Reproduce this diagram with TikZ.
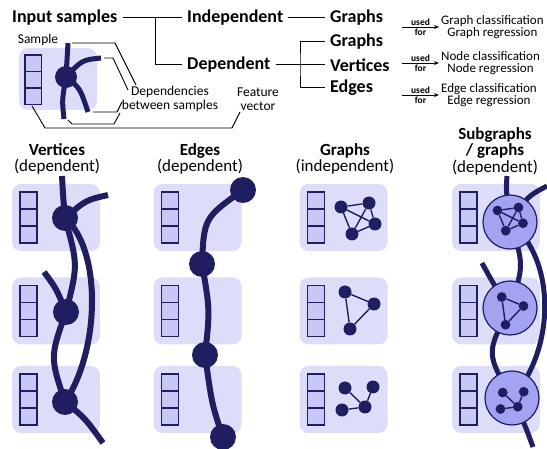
\documentclass[tikz,border=0pt]{standalone}
\usepackage{fontspec}
\setmainfont{Carlito}
\usetikzlibrary{calc,arrows.meta,positioning}

\definecolor{navy}{RGB}{31,30,96}
\definecolor{boxbg}{RGB}{221,221,250}
\definecolor{cellbg}{RGB}{200,200,246}
\definecolor{subbg}{RGB}{163,163,242}

% three stacked cells, top left corner at (#1,#2), cell size #3
\newcommand{\featvec}[3]{%
  \foreach \k in {0,1,2}
    \draw[cell] (#1,{#2+#3*\k}) rectangle ++(#3,#3);
}

\tikzset{
  kfour/.pic={
    \node[gv] (-a) at (-18,-10) {};
    \node[gv] (-b) at (10,-14) {};
    \node[gv] (-c) at (16,7) {};
    \node[gv] (-d) at (-7,17) {};
    \draw[gedge] (-a) -- (-b) (-a) -- (-c) (-a) -- (-d)
                 (-b) -- (-c) (-b) -- (-d) (-c) -- (-d);
  },
  tri/.pic={
    \node[gv] (-a) at (-11,-16) {};
    \node[gv] (-b) at (18,-4) {};
    \node[gv] (-c) at (-6,21) {};
    \draw[gedge] (-a) -- (-b) -- (-c) -- (-a);
  },
  fork/.pic={
    \node[gv] (-a) at (-11,-10) {};
    \node[gv] (-b) at (17,-11) {};
    \node[gv] (-c) at (9,9) {};
    \node[gv] (-d) at (-14,12) {};
    \draw[gedge] (-a) -- (-c) (-b) -- (-c) (-d) -- (-c);
  }
}

\begin{document}
\begin{tikzpicture}[x=1pt,y=-1pt,
  hd/.style={font=\fontsize{18}{18}\selectfont\bfseries, inner xsep=5pt, inner ysep=1pt},
  lbl/.style={font=\fontsize{13.5}{13.5}\selectfont, align=center, inner sep=0pt},
  use/.style={font=\fontsize{13}{12.5}\selectfont, align=center, inner sep=2pt},
  small/.style={font=\fontsize{9.5}{9.5}\selectfont\bfseries, inner sep=1pt},
  ttl/.style={font=\fontsize{17}{16.5}\selectfont, align=center, inner sep=0pt},
  sbox/.style={fill=boxbg, rounded corners=9pt, minimum width=88, minimum height=67, inner sep=0pt},
  cell/.style={draw=navy, fill=cellbg, line width=1.1pt},
  vtx/.style={circle, fill=navy, minimum size=26, inner sep=0pt},
  gv/.style={circle, fill=navy, minimum size=13, inner sep=0pt},
  gedge/.style={navy, line width=1.4pt},
  sub/.style={circle, draw=navy, line width=1.2pt, fill=subbg, minimum size=54, inner sep=0pt},
  strand/.style={navy, line width=6pt},
  call/.style={black, line width=0.9pt},
  tree/.style={black, line width=1pt}
]
\useasboundingbox (0,0) rectangle (547,449);

% --- top: what the samples are
\node[hd, anchor=west] (inp) at (7,18) {Input samples};
\node[hd, anchor=west] (ind) at (182,18) {Independent};
\node[hd, anchor=west] (dep) at (182,65) {Dependent};
\node[hd, anchor=west] (gr1) at (325,18) {Graphs};
\node[hd, anchor=west] (gr2) at (325,42) {Graphs};
\node[hd, anchor=west] (vts) at (325,65) {Vertices};
\node[hd, anchor=west] (eds) at (325,88) {Edges};
\coordinate (fk1) at (155,18);
\coordinate (fk2) at (300,65);
\draw[tree] (inp) -- (ind);
\draw[tree] (fk1) |- (dep);
\draw[tree] (ind) -- (gr1);
\draw[tree] (dep) -- (vts);
\draw[tree] (gr2) -| (fk2) |- (eds);

% --- used for
\node[use, anchor=west] (lgc) at (439,27) {Graph classification\\Graph regression};
\node[use, anchor=west] (lnc) at (439,63) {Node classification\\Node regression};
\node[use, anchor=west] (lec) at (439,95) {Edge classification\\Edge regression};
\coordinate (ua) at (402,27);
\coordinate (ub) at (402,63);
\coordinate (uc) at (402,95);
\foreach \s/\t in {ua/lgc, ub/lnc, uc/lec}
  \draw[-{Stealth[length=5pt,width=4pt]}, line width=0.9pt] (\s) -- (\t.west)
    node[small, midway, above] {used} node[small, midway, below] {for};

% --- one sample
\node[sbox, minimum width=78, minimum height=62] (smp) at (58,79) {};
\node[lbl] (smpl) at (38,40) {Sample};
\featvec{25}{55}{16.5}
\node[vtx, minimum size=22] (s0) at (66,77) {};
\coordinate (s1) at (68,43);
\coordinate (s2) at (101,58);
\coordinate (s3) at (88,112);
\coordinate (s4) at (64,119);
\draw[strand, line width=5pt] (s0.center) .. controls (67,60) .. (s1);
\draw[strand, line width=5pt] (s0.center) .. controls (82,60) .. (s2);
\draw[strand, line width=5pt] (s0.center) .. controls (80,88) .. (s3);
\draw[strand, line width=5pt] (s0.center) .. controls (62,100) .. (s4);

\node[lbl] (dps) at (170,99) {Dependencies\\between samples};
\node[lbl] (fvl) at (258,99) {Feature\\vector};
\draw[call] ($(s1)+(4,0)$) -- (115,43) -- (136,85);
\draw[call] ($(s2)+(3,0)$) -- (113,58) -- (128,90);
\draw[call] ($(s3)+(5,0)$) -- (117,112) -- (122,102);
\draw[call] ($(s4)+(4,1)$) -- (72,124) -- (114,124) -- (120,113);
\draw[call] (32,106) -- (45,128) -- (232,128) -- (240,112);

% --- column titles
\node[ttl] (tva) at (57,159) {\textbf{Vertices}\\(dependent)};
\node[ttl] (tvb) at (200,159) {\textbf{Edges}\\(dependent)};
\node[ttl] (tvc) at (345,159) {\textbf{Graphs}\\(independent)};
\node[ttl] (tvd) at (495,151) {\textbf{Subgraphs}\\\textbf{/ graphs}\\(dependent)};

% --- boxes with feature vectors
\foreach \cx/\cl in {56/a, 197.5/b, 343.5/c, 496/d}
  \foreach \cy/\rw in {217.5/1, 311/2, 399.5/3} {
    \node[sbox] (box\cl\rw) at (\cx,\cy) {};
    \featvec{\cx-36}{\cy-25.5}{17}
  }

% --- vertices
\node[vtx] (v1) at (65,218) {};
\node[vtx] (v2) at (66,312) {};
\node[vtx] (v3) at (65,402) {};
\coordinate (vt1) at (62,176);
\coordinate (vt2) at (108,195);
\coordinate (vt3) at (44,272);
\coordinate (vt4) at (103,443);
\draw[strand] (vt1) .. controls (63,195) .. (v1.center);
\draw[strand] (v1.center) .. controls (86,200) .. (vt2);
\draw[strand] (v1.center) .. controls (78,265) .. (v2.center);
\draw[strand] (v1.center) .. controls (102,250) and (100,350) .. (v3.center);
\draw[strand] (v2.center) .. controls (56,288) .. (vt3);
\draw[strand] (v2.center) .. controls (50,357) .. (v3.center);
\draw[strand] (v3.center) .. controls (85,418) .. (vt4);

% --- edges
\node[vtx] (e1) at (243,190) {};
\node[vtx] (e2) at (202,264) {};
\node[vtx] (e3) at (205,355) {};
\node[vtx] (e4) at (223,437) {};
\draw[strand] (e1.center) .. controls (204,218) .. (e2.center);
\draw[strand] (e2.center) .. controls (210,310) .. (e3.center);
\draw[strand] (e3.center) .. controls (212,405) .. (e4.center);

% --- graphs
\pic (pk) at (359,217) {kfour};
\pic (pt) at (356,308) {tri};
\pic (ps) at (356,398) {fork};

% --- subgraphs
\coordinate (c1) at (510,222);
\coordinate (c2) at (510,308);
\coordinate (c3) at (512,398);
\coordinate (ct1) at (507,176);
\coordinate (ct2) at (547,186);
\coordinate (ct3) at (482,263);
\coordinate (ct4) at (533,447);
\draw[strand, line width=5pt] (ct1) .. controls (506,190) .. (c1);
\draw[strand, line width=5pt] (c1) .. controls (528,196) .. (ct2);
\draw[strand, line width=5pt] (c1) .. controls (524,265) .. (c2);
\draw[strand, line width=5pt] (c1) .. controls (557,260) and (555,350) .. (c3);
\draw[strand, line width=5pt] (c2) .. controls (494,285) .. (ct3);
\draw[strand, line width=5pt] (c2) .. controls (486,353) .. (c3);
\draw[strand, line width=5pt] (c3) .. controls (525,425) .. (ct4);
\node[sub] (u1) at (c1) {};
\node[sub] (u2) at (c2) {};
\node[sub] (u3) at (c3) {};
\pic[scale=0.75, transform shape] (mk) at (511,218) {kfour};
\pic[scale=0.75, transform shape] (mt) at (510,309) {tri};
\pic[scale=0.75, transform shape] (ms) at (511,400) {fork};
\end{tikzpicture}
\end{document}
